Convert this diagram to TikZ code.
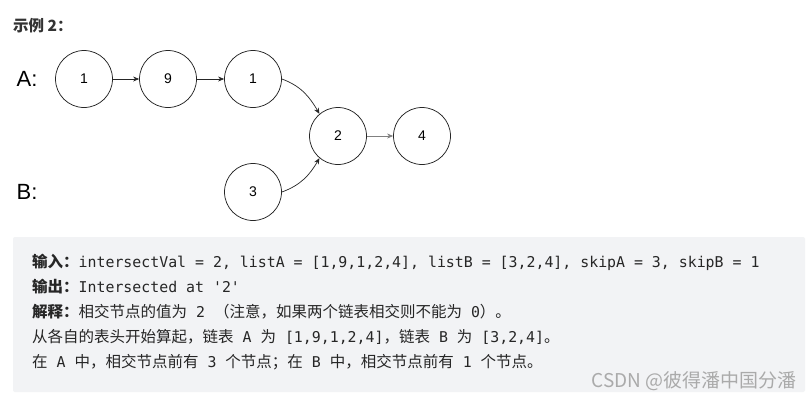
\documentclass[tikz,border=0pt]{standalone}
\usepackage{fontspec}
\setmainfont{Liberation Sans}
\newfontfamily\cjk{Noto Sans CJK SC}
\newfontfamily\mono[Scale=0.96]{DejaVu Sans Mono}
\usetikzlibrary{arrows.meta}
\definecolor{codebg}{HTML}{F2F3F5}
\definecolor{wmgray}{HTML}{AAAAAA}

\begin{document}
\begin{tikzpicture}[
        x=1pt, y=-1pt,
        listnode/.style={circle, draw=black!85, line width=0.75pt, minimum size=57pt, inner sep=0pt, font=\fontsize{14}{16}\selectfont},
        tag/.style={inner sep=0pt, font=\fontsize{22}{24}\selectfont},
        link/.style={-{Stealth[length=6pt,width=5pt]}, line width=0.7pt, draw=black!85},
        textline/.style={anchor=west, inner sep=0pt, font=\cjk\fontsize{15.5}{18}\selectfont, text=black!85},
    ]
        \useasboundingbox[fill=white] (0,0) rectangle (812,400);

        \node[anchor=west, inner sep=0pt, font=\cjk\bfseries\fontsize{15.5}{18}\selectfont, text=black!80] (title) at (13,26) {示例 2：};

        \node[tag] (la) at (27,79) {A:};
        \node[tag] (lb) at (27,192) {B:};

        \node[listnode] (a1) at (84,79) {1};
        \node[listnode] (a2) at (168,79) {9};
        \node[listnode] (a3) at (253,79) {1};
        \node[listnode] (c1) at (338,136) {2};
        \node[listnode] (c2) at (422,136) {4};
        \node[listnode] (b1) at (253,192) {3};

        \draw[link] (a1) -- (a2);
        \draw[link] (a2) -- (a3);
        \draw[link] (a3.east) to[out=-20, in=120] (c1.130);
        \draw[link] (b1.east) to[out=20, in=-120] (c1.-130);
        \draw[link, draw=black!50] (c1) -- (c2);

        \fill[codebg, rounded corners=2pt] (13,237) rectangle (805,392);

        \node[textline] (in) at (32,262) {{\bfseries 输入：}{\mono intersectVal = 2, listA = [1,9,1,2,4], listB = [3,2,4], skipA = 3, skipB = 1}};
        \node[textline] (out) at (32,287) {{\bfseries 输出：}{\mono Intersected at '2'}};
        \node[textline] (expl) at (32,312) {{\bfseries 解释：}相交节点的值为{\mono\ 2 }（注意，如果两个链表相交则不能为{\mono\ 0}）。};
        \node[textline] (heads) at (32,337) {从各自的表头开始算起，链表{\mono\ A }为{\mono\ [1,9,1,2,4]}，链表{\mono\ B }为{\mono\ [3,2,4]}。};
        \node[textline] (count) at (32,362) {在{\mono\ A }中，相交节点前有{\mono\ 3 }个节点；在{\mono\ B }中，相交节点前有{\mono\ 1 }个节点。};

        \node[anchor=east, inner sep=0pt, font=\cjk\fontsize{19}{22}\selectfont, text=wmgray] (mark) at (797,381) {CSDN @彼得潘中国分潘};
    \end{tikzpicture}
\end{document}
